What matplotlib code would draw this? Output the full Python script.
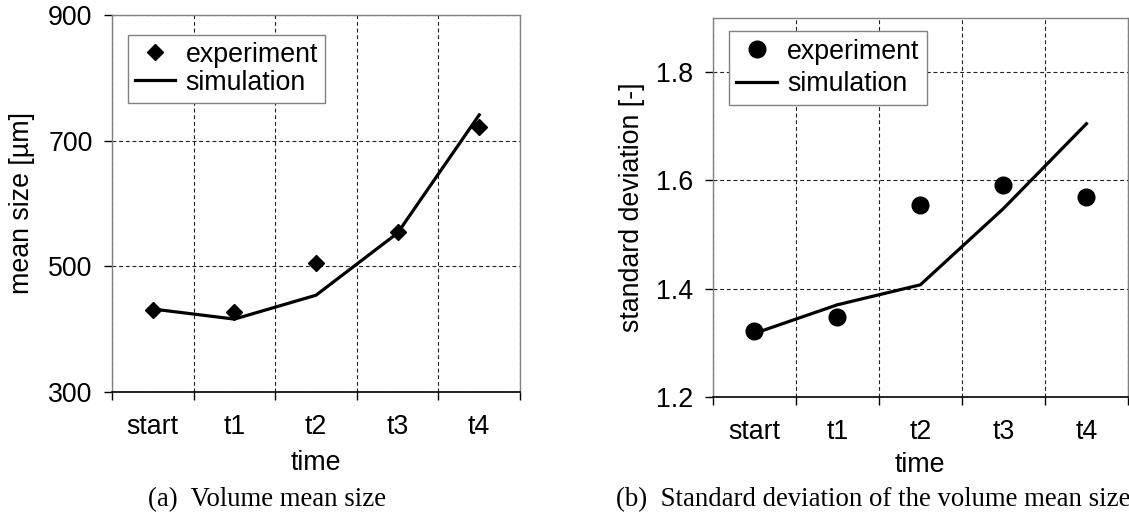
import numpy as np
import matplotlib
matplotlib.use("Agg")
import matplotlib.pyplot as plt

plt.rcParams['font.family'] = ['Liberation Sans', 'DejaVu Sans']

times = ['start', 't1', 't2', 't3', 't4']
meanExp = [430, 428, 505, 555, 722]
meanSim = [432, 416, 454, 553, 741]
stdExp = [1.322, 1.347, 1.555, 1.591, 1.570]
stdSim = [1.317, 1.370, 1.407, 1.548, 1.705]

fs = 19.3
gray = '#808080'

fig = plt.figure(figsize=(11.29, 5.2), dpi=100)
ax1 = fig.add_axes([0.0992, 0.2462, 0.3614, 0.725])
ax2 = fig.add_axes([0.6313, 0.2371, 0.3678, 0.7277])


def style(ax, yticks, ylim):
    x = np.arange(len(times))
    ax.set_xlim(-0.5, len(times) - 0.5)
    ax.set_ylim(ylim)
    ax.set_yticks(yticks)
    ax.set_xticks(np.arange(len(times) + 1) - 0.5)
    ax.set_xticklabels([])
    ax.set_xticks(x, minor=True)
    ax.set_xticklabels(times, minor=True)
    ax.tick_params(axis='x', which='minor', length=0, pad=16, labelsize=fs)
    ax.tick_params(axis='x', which='major', length=6, width=1, direction='out')
    ax.tick_params(axis='y', length=6, width=1, direction='out', pad=8, labelsize=fs)
    ax.grid(True, which='major', color='#222222', linestyle=(0, (3.5, 2.5)), linewidth=0.8)
    ax.set_axisbelow(True)
    for s in ['left', 'top', 'right']:
        ax.spines[s].set_color(gray)
        ax.spines[s].set_linewidth(1.0)
    ax.spines['bottom'].set_color('black')
    ax.spines['bottom'].set_linewidth(1.2)
    ax.set_xlabel('time', fontsize=fs)


# (a) volume mean size
style(ax1, [300, 500, 700, 900], (300, 900))
x = np.arange(len(times))
ax1.plot(x, meanExp, linestyle='none', marker='D', markersize=8.5, color='black', label='experiment', zorder=3)
ax1.plot(x, meanSim, color='black', linewidth=2.3, label='simulation', zorder=3)
ax1.set_ylabel('mean size [µm]', fontsize=fs)
ax1.xaxis.set_label_coords(0.5, -0.155)
ax1.yaxis.set_label_coords(-0.189, 0.5)
leg = ax1.legend(loc='upper left', bbox_to_anchor=(0.039, 0.947), borderaxespad=0, fontsize=fs,
                 fancybox=False, framealpha=1, edgecolor=gray, handlelength=1.5, handletextpad=0.4,
                 labelspacing=0.08, borderpad=0.25)
leg.get_frame().set_linewidth(1.0)

# (b) standard deviation
style(ax2, [1.2, 1.4, 1.6, 1.8], (1.2, 1.9))
ax2.plot(x, stdExp, linestyle='none', marker='o', markersize=12, color='black', label='experiment', zorder=3)
ax2.plot(x, stdSim, color='black', linewidth=2.3, label='simulation', zorder=3)
ax2.set_ylabel('standard deviation [-]', fontsize=fs)
ax2.set_yticklabels(['1.2', '1.4', '1.6', '1.8'])
ax2.xaxis.set_label_coords(0.5, -0.145)
ax2.yaxis.set_label_coords(-0.163, 0.5)
leg = ax2.legend(loc='upper left', bbox_to_anchor=(0.039, 0.966), borderaxespad=0, fontsize=fs,
                 fancybox=False, framealpha=1, edgecolor=gray, handlelength=1.5, handletextpad=0.4,
                 labelspacing=0.25, borderpad=0.28)
leg.get_frame().set_linewidth(1.0)

fig.text(267 / 1129, 1 - 500 / 520, '(a)  Volume mean size', ha='center', va='center',
         family=['Liberation Serif', 'DejaVu Serif'], fontsize=19.3)
fig.text(873 / 1129, 1 - 500 / 520, '(b)  Standard deviation of the volume mean size', ha='center', va='center',
         family=['Liberation Serif', 'DejaVu Serif'], fontsize=19.3)

fig.savefig('out.png', dpi=100)
